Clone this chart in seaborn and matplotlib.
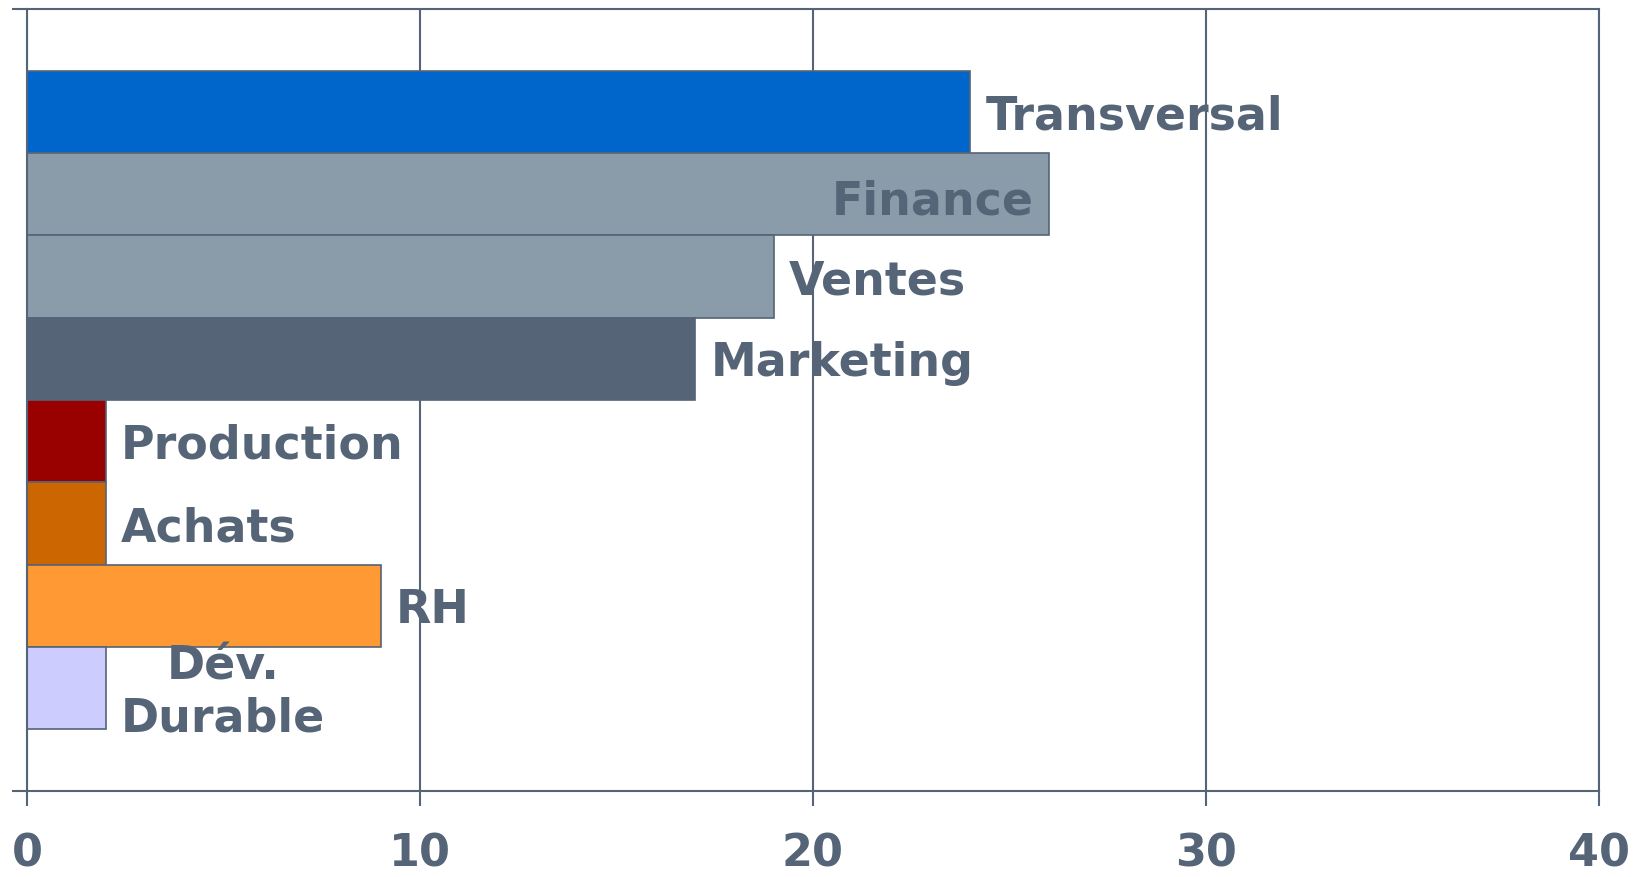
import matplotlib
matplotlib.use("Agg")
from matplotlib import pyplot as plt
import seaborn as sns
import pandas as pd

categories = ["Transversal", "Finance", "Ventes", "Marketing", "Production", "Achats", "RH", "Dév.\nDurable"]
values = [24, 26, 19, 17, 2, 2, 9, 2]
colors = ["#0066CC", "#8A9BAA", "#8A9BAA", "#556476", "#990000", "#CC6600", "#FF9933", "#CCCCFF"]
xticks = [0, 10, 20, 30, 40]

slate = "#556476"

sns.set_style("white")
plt.rcParams["font.family"] = ["DejaVu Sans"]
plt.rcParams["font.weight"] = "bold"

df = pd.DataFrame({"cat": categories, "val": values})

fig = plt.figure(figsize=(16.42, 8.78), dpi=100)
ax = fig.add_axes([0.0164, 0.098, 0.9574, 0.8906])

sns.barplot(data=df, x="val", y="cat", hue="cat", palette=colors, orient="h",
            width=1.0, edgecolor=slate, linewidth=1.2, saturation=1, legend=False, ax=ax)

ax.set_xlim(0, 40)
ax.set_ylim(8.25, -1.25)
ax.set_xticks(xticks)
ax.set_xticklabels([str(t) for t in xticks], fontsize=32, fontweight="bold", color=slate)
ax.set_yticks([-1.25, 8.25])
ax.set_yticklabels(["", ""])
ax.tick_params(axis="x", direction="out", length=11, width=1.5, color=slate, pad=18, bottom=True)
ax.tick_params(axis="y", direction="out", length=11, width=1.5, color=slate, left=True)
ax.set_xlabel("")
ax.set_ylabel("")

ax.xaxis.grid(True, color=slate, linewidth=1.5)
ax.set_axisbelow(True)
for side in ["left", "bottom", "top", "right"]:
    ax.spines[side].set_visible(True)
    ax.spines[side].set_color(slate)
    ax.spines[side].set_linewidth(1.5)

# labels next to bars, Finance inside
for i, (cat, v) in enumerate(zip(categories, values)):
    if cat == "Finance":
        ax.annotate(cat, (v, i), xytext=(-11, -5), textcoords="offset points",
                    ha="right", va="center", fontsize=33, fontweight="bold", color=slate)
    else:
        ax.annotate(cat, (v, i), xytext=(11, -3), textcoords="offset points",
                    ha="left", va="center", multialignment="center",
                    fontsize=33, fontweight="bold", color=slate, linespacing=1.2)

fig.savefig("out.png", dpi=100)
